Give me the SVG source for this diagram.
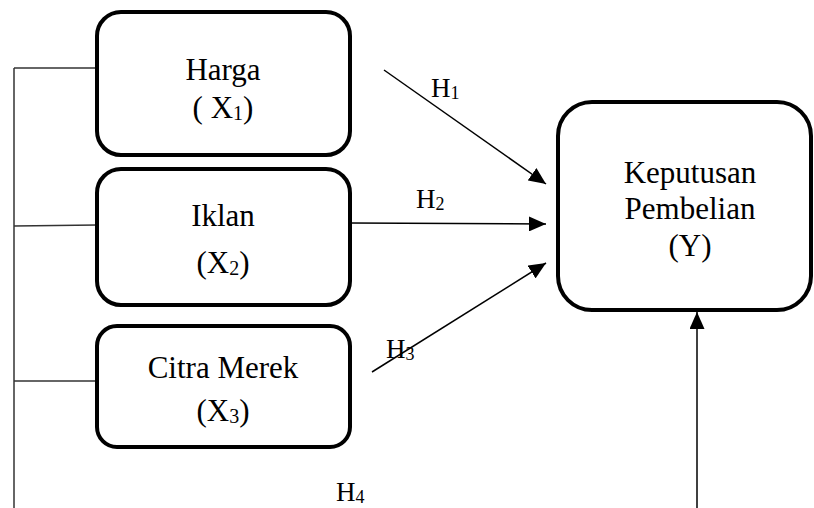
<svg xmlns="http://www.w3.org/2000/svg" width="814" height="508" viewBox="0 0 814 508">
<style>
.box{fill:#fff;stroke:#000;stroke-width:4}
.t{font-family:"Liberation Serif","Times New Roman",serif;font-size:31px;fill:#000;text-anchor:middle}
.h{font-family:"Liberation Serif","Times New Roman",serif;font-size:27px;fill:#000}
.sub{font-size:20px}
.hs{font-size:18px}
.ln{stroke:#000;stroke-width:1.5;fill:none}
.lnl{stroke:#333;stroke-width:1.5;fill:none}
</style>
<defs>
<marker id="arrb" viewBox="0 0 17 15" refX="17" refY="7.5" markerWidth="17" markerHeight="15" markerUnits="userSpaceOnUse" orient="auto">
<path d="M0,0 L17,7.5 L0,15 z" fill="#000"/>
</marker>
</defs>
<g id="connectors">
<line class="lnl" x1="14" y1="68" x2="14" y2="508"/>
<line class="lnl" x1="14" y1="68" x2="97" y2="68"/>
<line class="lnl" x1="14" y1="226" x2="97" y2="225"/>
<line class="lnl" x1="14" y1="381" x2="97" y2="381"/>
<line class="ln" x1="384" y1="70" x2="546" y2="184" marker-end="url(#arrb)"/>
<line class="ln" x1="350" y1="223" x2="546" y2="224" marker-end="url(#arrb)"/>
<line class="ln" x1="372" y1="372" x2="546" y2="263" marker-end="url(#arrb)"/>
<line class="ln" x1="697" y1="508" x2="697" y2="312" marker-end="url(#arrb)"/>
<text class="h" x="431" y="97">H<tspan class="hs" dy="2">1</tspan></text>
<text class="h" x="416" y="208">H<tspan class="hs" dy="2">2</tspan></text>
<text class="h" x="386" y="358">H<tspan class="hs" dy="2">3</tspan></text>
<text class="h" x="336" y="501">H<tspan class="hs" dy="2">4</tspan></text>
</g>
<g id="harga">
<rect class="box" x="97" y="12" width="253" height="143" rx="24"/>
<text class="t" x="223" y="80">Harga</text>
<text class="t" x="223" y="118">( X<tspan class="sub" dy="2">1</tspan><tspan dy="-2">)</tspan></text>
</g>
<g id="iklan">
<rect class="box" x="97" y="169" width="253" height="136" rx="24"/>
<text class="t" x="223" y="226">Iklan</text>
<text class="t" x="223" y="273">(X<tspan class="sub" dy="2">2</tspan><tspan dy="-2">)</tspan></text>
</g>
<g id="citra">
<rect class="box" x="97" y="326" width="253" height="121" rx="20"/>
<text class="t" x="223" y="378">Citra Merek</text>
<text class="t" x="223" y="421">(X<tspan class="sub" dy="2">3</tspan><tspan dy="-2">)</tspan></text>
</g>
<g id="keputusan">
<rect class="box" x="558" y="102" width="253" height="208" rx="34"/>
<text class="t" x="690" y="183">Keputusan</text>
<text class="t" x="690" y="219">Pembelian</text>
<text class="t" x="690" y="256">(Y)</text>
</g>
</svg>
